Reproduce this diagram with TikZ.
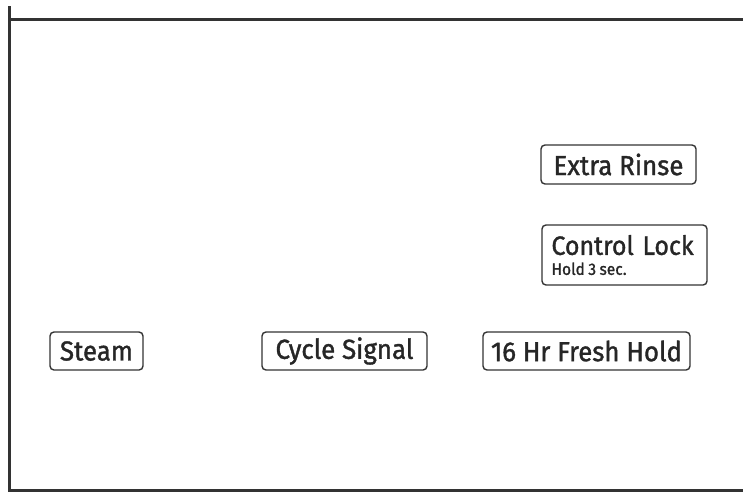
\documentclass[tikz,border=0pt]{standalone}
\usepackage{fontspec}
\setmainfont[FakeStretch=0.94, FakeBold=1.3]{Fira Sans}
\begin{document}
\begin{tikzpicture}[x=1pt,y=-1pt,
  frame/.style={draw=black!80, line width=3pt},
  btn/.style={draw=black!80, line width=1.4pt, rounded corners=4pt, inner sep=0pt,
    font=\fontsize{27.5}{29}\selectfont, text=black!85},
]
\useasboundingbox (0,0) rectangle (743,493);
\coordinate (lt) at (9.5,6);
\coordinate (lb) at (9.5,490);
\coordinate (tl) at (9.5,19.5);
\coordinate (tr) at (743,19.5);
\coordinate (bl) at (8,490);
\coordinate (br) at (743,490);
\draw[frame] (lt) -- (lb);
\draw[frame] (tl) -- (tr);
\draw[frame] (bl) -- (br);
\node[btn, minimum width=155pt, minimum height=39pt] (rinse) at (618.5,164.5) {Extra Rinse};
\node[btn, minimum width=165pt, minimum height=60pt, text width=146pt, align=left, font=\fontsize{26.5}{28}\selectfont] (lock) at (624.5,255)
  {Control Lock\\[-8pt]{\fontsize{16.5}{17}\selectfont Hold\hspace{3.5pt}3\hspace{3.5pt}sec.}};
\node[btn, minimum width=93pt, minimum height=38pt] (steam) at (96.5,351) {Steam};
\node[btn, minimum width=165pt, minimum height=38pt] (signal) at (344.5,351) {Cycle Signal};
\node[btn, minimum width=207pt, minimum height=38pt] (hold) at (586.5,351) {16 Hr Fresh Hold};
\end{tikzpicture}
\end{document}
